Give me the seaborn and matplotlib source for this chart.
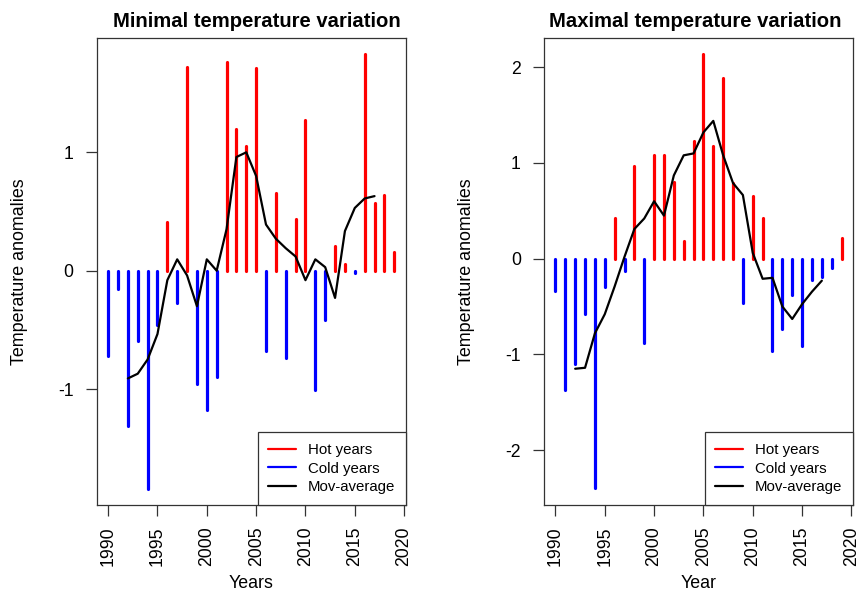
import numpy as np
import pandas as pd
import matplotlib
matplotlib.use("Agg")
import matplotlib.pyplot as plt
from matplotlib.lines import Line2D
import seaborn as sns

# ---------------- data ----------------
years = list(range(1990, 2020))

tmin_anom = [-0.72, -0.155, -1.31, -0.59, -1.84, -0.46, 0.41, -0.27, 1.72, -0.96,
             -1.18, -0.90, 1.76, 1.20, 1.05, 1.71, -0.68, 0.66, -0.74, 0.44,
             1.27, -1.01, -0.42, 0.21, 0.06, -0.02, 1.83, 0.57, 0.64, 0.16]

tmax_anom = [-0.34, -1.375, -1.10, -0.58, -2.40, -0.30, 0.43, -0.13, 0.97, -0.88,
             1.08, 1.08, 0.80, 0.19, 1.23, 2.14, 1.18, 1.89, 0.79, -0.46,
             0.655, 0.43, -0.96, -0.73, -0.38, -0.91, -0.22, -0.195, -0.094, 0.22]

ma_years = list(range(1992, 2018))

tmin_ma = [-0.91, -0.87, -0.75, -0.535, -0.08, 0.096, -0.04, -0.30, 0.096, 0.0,
           0.35, 0.96, 1.00, 0.80, 0.39, 0.27, 0.19, 0.12, -0.08, 0.096,
           0.03, -0.23, 0.335, 0.53, 0.61, 0.63]

tmax_ma = [-1.15, -1.14, -0.78, -0.58, -0.29, 0.02, 0.31, 0.42, 0.60, 0.45,
           0.87, 1.08, 1.10, 1.32, 1.44, 1.08, 0.79, 0.665, 0.06, -0.21,
           -0.20, -0.50, -0.63, -0.475, -0.345, -0.23]

titles = ["Minimal temperature variation", "Maximal temperature variation"]
xlabels = ["Years", "Year"]
ylabel = "Temperature anomalies"
legend_labels = ["Hot years", "Cold years", "Mov-average"]
xticks = [1990, 1995, 2000, 2005, 2010, 2015, 2020]
yticks_list = [[-1, 0, 1], [-2, -1, 0, 1, 2]]
ylims = [(-1.979, 1.963), (-2.574, 2.303)]

# ---------------- style ----------------
sns.set_style("ticks")
plt.rcParams['font.family'] = ['Liberation Sans', 'DejaVu Sans']
plt.rcParams['text.color'] = 'black'
plt.rcParams['axes.labelcolor'] = 'black'
plt.rcParams['xtick.color'] = 'black'
plt.rcParams['ytick.color'] = 'black'

W, H = 863, 594
fig = plt.figure(figsize=(W / 100, H / 100), dpi=100)

ax_w = 309 / W
ax_h = 466.7 / H
ax_b = 1 - 505 / H
lefts = [96.7 / W, 544 / W]
title_x = [0.517, 0.489]

series = [(tmin_anom, tmin_ma), (tmax_anom, tmax_ma)]

for i in range(2):
    ax = fig.add_axes([lefts[i], ax_b, ax_w, ax_h])
    anom, ma = series[i]
    df = pd.DataFrame({"year": years, "anom": anom})
    hot = df[df["anom"] >= 0]
    cold = df[df["anom"] < 0]
    ax.vlines(hot["year"], 0, hot["anom"], colors="#FF0000", linewidth=2.3,
              capstyle="round", zorder=2)
    ax.vlines(cold["year"], 0, cold["anom"], colors="#0000FF", linewidth=2.3,
              capstyle="round", zorder=2)
    dma = pd.DataFrame({"year": ma_years, "ma": ma})
    sns.lineplot(data=dma, x="year", y="ma", ax=ax, color="black", linewidth=1.6,
                 legend=False, zorder=3)

    ax.set_xlim(1988.84, 2020.16)
    ax.set_ylim(*ylims[i])
    ax.set_xticks(xticks)
    ax.set_xticklabels([str(t) for t in xticks], rotation=90, fontsize=12.7)
    ax.set_yticks(yticks_list[i])
    ax.set_yticklabels([str(t) for t in yticks_list[i]], fontsize=12.7)
    ax.tick_params(axis="both", direction="out", length=7.6, width=0.9,
                   color="#333333", labelcolor="black")
    ax.tick_params(axis="x", pad=8)
    ax.tick_params(axis="y", pad=9)
    for s in ax.spines.values():
        s.set_visible(True)
        s.set_linewidth(0.9)
        s.set_color("#333333")

    ax.set_title(titles[i], fontsize=14.55, fontweight="bold", pad=8,
                 color="black", x=title_x[i])
    ax.set_xlabel(xlabels[i], fontsize=12.8, color="black")
    ax.set_ylabel(ylabel, fontsize=12.9, color="black")
    ax.xaxis.set_label_coords(0.5, -0.150)
    ax.yaxis.set_label_coords(-0.222, 0.5)

    handles = [Line2D([0], [0], color="#FF0000", lw=1.6),
               Line2D([0], [0], color="#0000FF", lw=1.6),
               Line2D([0], [0], color="black", lw=1.6)]
    leg = ax.legend(handles, legend_labels, loc="lower right",
                    bbox_to_anchor=(1, 0), borderaxespad=0, fontsize=10.8,
                    frameon=True, fancybox=False, framealpha=1,
                    edgecolor="#333333", handlelength=1.85, handletextpad=0.8,
                    labelspacing=0.32, borderpad=0.7)
    leg.get_frame().set_linewidth(0.9)
    for t in leg.get_texts():
        t.set_color("black")

fig.savefig("out.png", dpi=100)
